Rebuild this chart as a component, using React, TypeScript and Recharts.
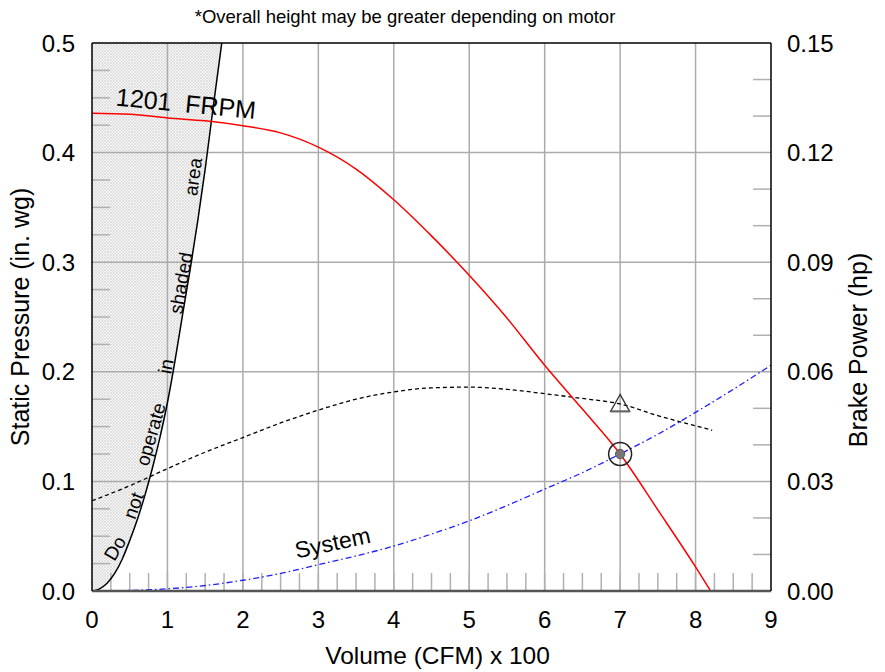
import React from 'react';
import { ComposedChart, Line, Area, XAxis, YAxis, ReferenceLine, ReferenceDot } from 'recharts';

const FONT = "'Liberation Sans', Arial, Helvetica, sans-serif";

// Fan curve: static pressure (in. wg) vs volume (CFM x 100)
const pressureCfm = [0, 0.5, 1, 1.5, 2, 2.5, 3, 3.5, 4, 4.5, 5, 5.5, 6, 6.5, 7, 7.5, 8, 8.2];
const pressureInWg = [0.436, 0.435, 0.4316, 0.429, 0.4245, 0.418, 0.405, 0.385, 0.357, 0.324, 0.288, 0.249, 0.206, 0.166, 0.125, 0.074, 0.022, 0];

// Brake power (hp)
const powerCfm = [0, 0.5, 1, 1.5, 2, 2.5, 3, 3.5, 4, 4.5, 5, 5.5, 6, 6.5, 7, 7.5, 8, 8.22];
const powerHp = [0.0247, 0.0288, 0.0335, 0.038, 0.042, 0.046, 0.0495, 0.0525, 0.0545, 0.0556, 0.0558, 0.0552, 0.054, 0.0527, 0.0512, 0.048, 0.0452, 0.044];

// System curve
const systemCfm = [0, 0.5, 1, 1.5, 2, 2.5, 3, 3.5, 4, 4.5, 5, 5.5, 6, 6.5, 7, 7.5, 8, 8.5, 9];
const systemInWg = [0, 0.0005, 0.002, 0.005, 0.0098, 0.016, 0.024, 0.032, 0.041, 0.052, 0.064, 0.078, 0.093, 0.108, 0.125, 0.143, 0.163, 0.184, 0.206];

// "Do not operate" boundary
const limitCfm = [0, 0.1, 0.2, 0.3, 0.4, 0.5, 0.6, 0.7, 0.8, 0.9, 1.0, 1.1, 1.2, 1.3, 1.4, 1.5, 1.6, 1.72];
const limitInWg = [0, 0.002, 0.007, 0.016, 0.029, 0.046, 0.065, 0.087, 0.112, 0.14, 0.172, 0.21, 0.252, 0.293, 0.337, 0.385, 0.438, 0.5];

// Operating point
const opCfm = 7;
const opInWg = 0.125;
const opHp = 0.0512;

// Ticks
const xTicks = [0, 1, 2, 3, 4, 5, 6, 7, 8, 9];
const yTicks = [0, 0.1, 0.2, 0.3, 0.4, 0.5];
const hpTicks = [0, 0.03, 0.06, 0.09, 0.12, 0.15];
const xGrid = [1, 2, 3, 4, 5, 6, 7, 8];
const yGrid = [0.1, 0.2, 0.3, 0.4];
const xMinor = [0.25, 0.5, 0.75, 1, 1.25, 1.5, 1.75, 2, 2.25, 2.5, 2.75, 3, 3.25, 3.5, 3.75, 4, 4.25, 4.5, 4.75, 5, 5.25, 5.5, 5.75, 6, 6.25, 6.5, 6.75, 7, 7.25, 7.5, 7.75, 8, 8.25, 8.5, 8.75];
const yMinor = [0.025, 0.05, 0.075, 0.125, 0.15, 0.175, 0.225, 0.25, 0.275, 0.325, 0.35, 0.375, 0.425, 0.45, 0.475];
const hpMinor = [0.01, 0.02, 0.04, 0.05, 0.07, 0.08, 0.1, 0.11, 0.13, 0.14];

// Annotation words along the boundary
const wordText = ['Do', 'not', 'operate', 'in', 'shaded', 'area'];
const wordCfm = [0.305, 0.55, 0.78, 0.98, 1.18, 1.34];
const wordInWg = [0.039, 0.078, 0.143, 0.205, 0.281, 0.378];
const wordAngle = [-60, -70, -74, -79, -80, -82];

const pressureData = pressureCfm.map((x, i) => ({ x, p: pressureInWg[i] }));
const powerData = powerCfm.map((x, i) => ({ x, hp: powerHp[i] }));
const systemData = systemCfm.map((x, i) => ({ x, s: systemInWg[i] }));
const limitData = limitCfm.map((x, i) => ({ x, l: limitInWg[i], band: [limitInWg[i], 0.5] }));

const GRID = '#ababab';
const MINOR = '#b0b0b0';

const textShape = (txt: string, angle: number, size: number) => (props: any) => {
  const { cx, cy } = props;
  return (
    <text
      x={cx}
      y={cy}
      transform={`rotate(${angle} ${cx} ${cy})`}
      textAnchor="middle"
      dominantBaseline="central"
      fontFamily={FONT}
      fontSize={size}
      fill="#000"
      style={{ whiteSpace: 'pre' }}
    >
      {txt}
    </text>
  );
};

const opShape = (props: any) => {
  const { cx, cy } = props;
  return (
    <g>
      <circle cx={cx} cy={cy} r={11.5} fill="none" stroke="#222" strokeWidth={1.5} />
      <circle cx={cx} cy={cy} r={4.7} fill="#777" stroke="#444" strokeWidth={0.8} />
    </g>
  );
};

const triShape = (props: any) => {
  const { cx, cy } = props;
  const top = cy - 9.5;
  const base = cy + 7.5;
  return (
    <g>
      <polygon points={`${cx},${top} ${cx - 9.5},${base} ${cx + 9.5},${base}`} fill="none" stroke="#333" strokeWidth={1.3} />
      <line x1={cx - 9.5} y1={base} x2={cx + 9.5} y2={base} stroke="#666" strokeWidth={2} />
    </g>
  );
};

const leftTitle = (props: any) => {
  const vb = props.viewBox || { x: 0, y: 43, width: 92, height: 548 };
  const cx = vb.x + 20;
  const cy = vb.y + vb.height / 2;
  return (
    <text x={cx} y={cy} transform={`rotate(-90 ${cx} ${cy})`} textAnchor="middle" dominantBaseline="central" fontFamily={FONT} fontSize={25} fill="#000">
      Static Pressure (in. wg)
    </text>
  );
};

const rightTitle = (props: any) => {
  const vb = props.viewBox || { x: 771, y: 43, width: 114, height: 548 };
  const cx = vb.x + 87;
  const cy = vb.y + vb.height / 2 + 33;
  return (
    <text x={cx} y={cy} transform={`rotate(-90 ${cx} ${cy})`} textAnchor="middle" dominantBaseline="central" fontFamily={FONT} fontSize={25} fill="#000">
      Brake Power (hp)
    </text>
  );
};

const bottomTitle = (props: any) => {
  const vb = props.viewBox || { x: 92, y: 591, width: 679, height: 81 };
  const cx = vb.x + vb.width / 2 + 6;
  const cy = vb.y + 64;
  return (
    <text x={cx} y={cy} textAnchor="middle" dominantBaseline="central" fontFamily={FONT} fontSize={24.5} fill="#000">
      Volume (CFM) x 100
    </text>
  );
};

const tickStyle = { fontFamily: FONT, fontSize: 24, fill: '#000' };

export default function App() {
  return (
    <div style={{ position: 'absolute', left: 0, top: 0, width: 885, height: 672, background: '#fff' }}>
      <ComposedChart width={885} height={672} margin={{ top: 43, right: 0, bottom: 0, left: 0 }}>
        <defs>
          <pattern id="hatch" width="3" height="3" patternUnits="userSpaceOnUse">
            <rect width="3" height="3" fill="#f6f6f6" />
            <path d="M0,0 L3,3 M3,0 L0,3" stroke="#d2d2d2" strokeWidth="0.6" />
          </pattern>
        </defs>
        <XAxis
          xAxisId="x"
          dataKey="x"
          type="number"
          domain={[0, 9]}
          ticks={xTicks}
          allowDataOverflow
          height={81}
          tickLine={false}
          tickSize={0}
          tickMargin={20}
          tick={tickStyle}
          axisLine={{ stroke: '#555', strokeWidth: 2.5 }}
          label={bottomTitle}
        />
        <YAxis
          yAxisId="left"
          type="number"
          domain={[0, 0.5]}
          ticks={yTicks}
          allowDataOverflow
          width={92}
          tickLine={false}
          tickSize={0}
          tickMargin={17}
          tick={tickStyle}
          tickFormatter={(v: number) => v.toFixed(1)}
          axisLine={{ stroke: '#000', strokeWidth: 1.5 }}
          label={leftTitle}
        />
        <YAxis
          yAxisId="right"
          orientation="right"
          type="number"
          domain={[0, 0.15]}
          ticks={hpTicks}
          allowDataOverflow
          width={114}
          tickLine={false}
          tickSize={0}
          tickMargin={16}
          tick={tickStyle}
          tickFormatter={(v: number) => v.toFixed(2)}
          axisLine={{ stroke: '#000', strokeWidth: 1.5 }}
          label={rightTitle}
        />

        <Area
          xAxisId="x"
          yAxisId="left"
          data={limitData}
          dataKey="band"
          type="monotone"
          stroke="none"
          fill="url(#hatch)"
          fillOpacity={1}
          isAnimationActive={false}
        />

        {xGrid.map((v) => (
          <ReferenceLine key={`gx${v}`} xAxisId="x" yAxisId="left" x={v} stroke={GRID} strokeWidth={1.5} />
        ))}
        {yGrid.map((v) => (
          <ReferenceLine key={`gy${v}`} xAxisId="x" yAxisId="left" y={v} stroke={GRID} strokeWidth={1.5} />
        ))}
        {xMinor.map((v) => (
          <ReferenceLine
            key={`mx${v}`}
            xAxisId="x"
            yAxisId="left"
            segment={[{ x: v, y: 0 }, { x: v, y: 0.0164 }]}
            stroke={MINOR}
            strokeWidth={1.5}
          />
        ))}
        {yMinor.map((v) => (
          <ReferenceLine
            key={`my${v}`}
            xAxisId="x"
            yAxisId="left"
            segment={[{ x: 0, y: v }, { x: 0.239, y: v }]}
            stroke={MINOR}
            strokeWidth={1.5}
          />
        ))}
        {hpMinor.map((v) => (
          <ReferenceLine
            key={`mh${v}`}
            xAxisId="x"
            yAxisId="right"
            segment={[{ x: 8.761, y: v }, { x: 9, y: v }]}
            stroke={MINOR}
            strokeWidth={1.5}
          />
        ))}
        <ReferenceLine xAxisId="x" yAxisId="left" y={0.5} stroke="#000" strokeWidth={1.5} />

        <Line
          xAxisId="x"
          yAxisId="left"
          data={limitData}
          dataKey="l"
          type="monotone"
          stroke="#000"
          strokeWidth={1.5}
          dot={false}
          isAnimationActive={false}
        />
        <Line
          xAxisId="x"
          yAxisId="right"
          data={powerData}
          dataKey="hp"
          type="monotone"
          stroke="#000"
          strokeWidth={1.3}
          strokeDasharray="4 3"
          dot={false}
          isAnimationActive={false}
        />
        <Line
          xAxisId="x"
          yAxisId="left"
          data={systemData}
          dataKey="s"
          type="monotone"
          stroke="#1f1fff"
          strokeWidth={1.3}
          strokeDasharray="6 3 1.5 3"
          dot={false}
          isAnimationActive={false}
        />
        <Line
          xAxisId="x"
          yAxisId="left"
          data={pressureData}
          dataKey="p"
          type="monotone"
          stroke="#ff0000"
          strokeWidth={1.5}
          dot={false}
          isAnimationActive={false}
        />

        {wordText.map((w, i) => (
          <ReferenceDot
            key={`w${i}`}
            xAxisId="x"
            yAxisId="left"
            x={wordCfm[i]}
            y={wordInWg[i]}
            r={0}
            shape={textShape(w, wordAngle[i], 19)}
          />
        ))}
        <ReferenceDot xAxisId="x" yAxisId="left" x={1.246} y={0.445} r={0} shape={textShape('1201  FRPM', 5.5, 25)} />
        <ReferenceDot xAxisId="x" yAxisId="left" x={3.19} y={0.044} r={0} shape={textShape('System', -12, 23)} />

        <ReferenceDot xAxisId="x" yAxisId="right" x={opCfm} y={opHp} r={9} shape={triShape} />
        <ReferenceDot xAxisId="x" yAxisId="left" x={opCfm} y={opInWg} r={11} shape={opShape} />
      </ComposedChart>
      <svg width={885} height={40} style={{ position: 'absolute', left: 0, top: 0, pointerEvents: 'none' }}>
        <text x={405} y={23} textAnchor="middle" fontFamily={FONT} fontSize={18.5} fill="#000">
          *Overall height may be greater depending on motor
        </text>
      </svg>
    </div>
  );
}
